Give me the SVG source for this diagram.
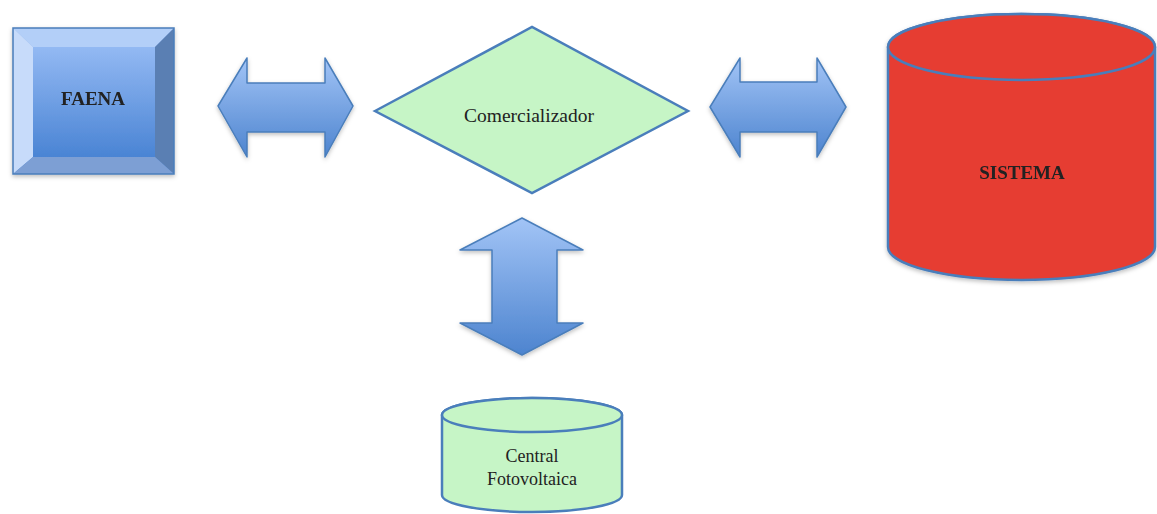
<svg xmlns="http://www.w3.org/2000/svg" width="1157" height="514" viewBox="0 0 1157 514">
<style>
text{font-family:'Liberation Serif','Times New Roman','DejaVu Serif',serif;fill:#222;text-anchor:middle}
.b{font-weight:bold;font-size:19px}
.r{font-size:18px}
.c{font-size:19.5px}
.arrow{fill:url(#ag);stroke:#4a7ebb;stroke-width:1.5;stroke-linejoin:round}
.green{fill:#c6f5c6;stroke:#4a7ebb;stroke-width:2.5}
.red{fill:#e63c32;stroke:#4a7ebb;stroke-width:2.5}
</style>
<defs>
<linearGradient id="ag" x1="0" y1="0" x2="0" y2="1">
<stop offset="0" stop-color="#a2c4f6"/>
<stop offset="1" stop-color="#4d84cf"/>
</linearGradient>
<linearGradient id="bg" x1="0" y1="0" x2="0" y2="1">
<stop offset="0" stop-color="#93b9f3"/>
<stop offset="1" stop-color="#4a84d4"/>
</linearGradient>
<filter id="sh" x="-10%" y="-10%" width="130%" height="130%">
<feDropShadow dx="0" dy="2" stdDeviation="2" flood-color="#000" flood-opacity="0.25"/>
</filter>
</defs>
<g id="connectors">
<path class="arrow" filter="url(#sh)" d="M218,106 L247,58 L247,83 L325,83 L325,58 L353,106 L325,157 L325,132 L247,132 L247,157 Z"/>
<path class="arrow" filter="url(#sh)" d="M710,107 L740,58 L740,82 L817,82 L817,58 L846,107 L817,157 L817,132 L740,132 L740,157 Z"/>
<path class="arrow" filter="url(#sh)" d="M522,218 L583,250 L557,250 L557,323 L583,323 L522,355 L460,323 L492,323 L492,250 L460,250 Z"/>
</g>
<g id="faena" filter="url(#sh)">
<rect x="13" y="28" width="161" height="146" fill="url(#bg)"/>
<polygon points="13,28 174,28 155,47 33,47" fill="#b3cff8"/>
<polygon points="13,28 33,47 33,157 13,174" fill="#c7dbfa"/>
<polygon points="174,28 174,174 155,157 155,47" fill="#5a7fb3"/>
<polygon points="13,174 174,174 155,157 33,157" fill="#7d9fd4"/>
<rect x="33" y="47" width="122" height="110" fill="url(#bg)"/>
<rect x="13" y="28" width="161" height="146" fill="none" stroke="#4a7ebb" stroke-width="1.5"/>
<text class="b" x="93" y="105" font-family="Liberation Serif, serif">FAENA</text>
</g>
<g id="comercializador">
<polygon class="green" points="375,111 532,27 688,111 532,193"/>
<text class="c" x="529" y="122" font-family="Liberation Serif, serif">Comercializador</text>
</g>
<g id="sistema" filter="url(#sh)">
<path class="red" d="M888,47 L888,247 A133.5,33 0 0 0 1155,247 L1155,47 A133.5,33 0 0 0 888,47 Z"/>
<ellipse class="red" cx="1021.5" cy="47" rx="133.5" ry="33"/>
<text class="b" x="1022" y="179" font-family="Liberation Serif, serif">SISTEMA</text>
</g>
<g id="central">
<path class="green" d="M442,415 L442,495 A90,17 0 0 0 622,495 L622,415 A90,17 0 0 0 442,415 Z"/>
<ellipse class="green" cx="532" cy="415" rx="90" ry="17"/>
<text class="r" x="532" y="462" font-family="Liberation Serif, serif">Central</text>
<text class="r" x="532" y="485" font-family="Liberation Serif, serif">Fotovoltaica</text>
</g>
</svg>
